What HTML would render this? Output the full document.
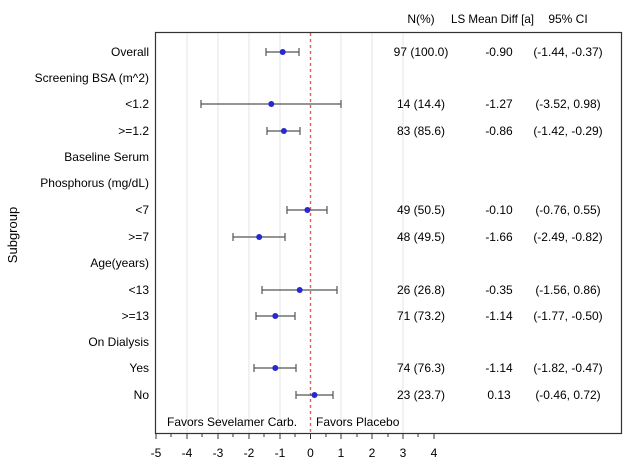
<!DOCTYPE html>
<html><head><meta charset="utf-8"><style>body{margin:0;background:#fff}</style></head><body>
<svg width="626" height="470" xmlns="http://www.w3.org/2000/svg" font-family="Liberation Sans, sans-serif" font-size="12" fill="#000">
<rect width="626" height="470" fill="#fff"/>
<g stroke="#e6e6e6" stroke-width="1">
<line x1="187" y1="33" x2="187" y2="433"/><line x1="218" y1="33" x2="218" y2="433"/><line x1="249" y1="33" x2="249" y2="433"/><line x1="280" y1="33" x2="280" y2="433"/><line x1="341" y1="33" x2="341" y2="433"/><line x1="372" y1="33" x2="372" y2="433"/><line x1="403" y1="33" x2="403" y2="433"/>
</g>
<line x1="310.5" y1="33" x2="310.5" y2="433" stroke="#e06060" stroke-width="1.4" stroke-dasharray="3,3"/>
<rect x="155.5" y="32.5" width="466" height="401" fill="none" stroke="#333" stroke-width="1.2"/>
<g stroke="#333">
<line x1="156" y1="434" x2="156" y2="439"/><line x1="187" y1="434" x2="187" y2="439"/><line x1="218" y1="434" x2="218" y2="439"/><line x1="249" y1="434" x2="249" y2="439"/><line x1="280" y1="434" x2="280" y2="439"/><line x1="310.5" y1="434" x2="310.5" y2="439"/><line x1="341" y1="434" x2="341" y2="439"/><line x1="372" y1="434" x2="372" y2="439"/><line x1="403" y1="434" x2="403" y2="439"/><line x1="434" y1="434" x2="434" y2="439"/>
<line x1="171" y1="434" x2="171" y2="437"/><line x1="202" y1="434" x2="202" y2="437"/><line x1="233" y1="434" x2="233" y2="437"/><line x1="264" y1="434" x2="264" y2="437"/><line x1="295" y1="434" x2="295" y2="437"/><line x1="326" y1="434" x2="326" y2="437"/><line x1="357" y1="434" x2="357" y2="437"/><line x1="388" y1="434" x2="388" y2="437"/><line x1="418" y1="434" x2="418" y2="437"/>
</g>
<g text-anchor="middle">
<text x="156" y="457">-5</text><text x="187" y="457">-4</text><text x="218" y="457">-3</text><text x="249" y="457">-2</text><text x="280" y="457">-1</text><text x="310.5" y="457">0</text><text x="341" y="457">1</text><text x="372" y="457">2</text><text x="403" y="457">3</text><text x="434" y="457">4</text>
<text x="421" y="23">N(%)</text><text x="568" y="23">95% CI</text>
</g>
<text x="451" y="23" textLength="83" lengthAdjust="spacingAndGlyphs">LS Mean Diff [a]</text>
<text x="17" y="235" text-anchor="middle" font-size="13" transform="rotate(-90 17 235)">Subgroup</text>
<g text-anchor="end">
<text x="149" y="56">Overall</text><text x="149" y="82">Screening BSA (m^2)</text><text x="149" y="108">&lt;1.2</text><text x="149" y="135">&gt;=1.2</text><text x="149" y="161">Baseline Serum</text><text x="149" y="187">Phosphorus (mg/dL)</text><text x="149" y="214">&lt;7</text><text x="149" y="241">&gt;=7</text><text x="149" y="267">Age(years)</text><text x="149" y="294">&lt;13</text><text x="149" y="320">&gt;=13</text><text x="149" y="346">On Dialysis</text><text x="149" y="372">Yes</text><text x="149" y="399">No</text>
</g>
<text x="167" y="426">Favors Sevelamer Carb.</text><text x="316" y="426">Favors Placebo</text>
<g stroke="#555" stroke-width="1.2">
<path d="M266 52H299M266 48v8M299 48v8"/>
<path d="M201 104H341M201 100v8M341 100v8"/>
<path d="M267 131H300M267 127v8M300 127v8"/>
<path d="M287 210H327M287 206v8M327 206v8"/>
<path d="M233 237H285M233 233v8M285 233v8"/>
<path d="M262 290H337M262 286v8M337 286v8"/>
<path d="M256 316H295M256 312v8M295 312v8"/>
<path d="M254 368H296M254 364v8M296 364v8"/>
<path d="M296 395H333M296 391v8M333 391v8"/>
</g>
<g fill="#2828d0">
<circle cx="282.7" cy="52" r="3"/><circle cx="271.3" cy="104" r="3"/><circle cx="283.9" cy="131" r="3"/><circle cx="307.4" cy="210" r="3"/><circle cx="259.2" cy="237" r="3"/><circle cx="299.7" cy="290" r="3"/><circle cx="275.3" cy="316" r="3"/><circle cx="275.3" cy="368" r="3"/><circle cx="314.5" cy="395" r="3"/>
</g>
<g text-anchor="middle">
<text x="421" y="56">97 (100.0)</text><text x="499" y="56">-0.90</text><text x="568" y="56">(-1.44, -0.37)</text>
<text x="421" y="108">14 (14.4)</text><text x="499" y="108">-1.27</text><text x="568" y="108">(-3.52, 0.98)</text>
<text x="421" y="135">83 (85.6)</text><text x="499" y="135">-0.86</text><text x="568" y="135">(-1.42, -0.29)</text>
<text x="421" y="214">49 (50.5)</text><text x="499" y="214">-0.10</text><text x="568" y="214">(-0.76, 0.55)</text>
<text x="421" y="241">48 (49.5)</text><text x="499" y="241">-1.66</text><text x="568" y="241">(-2.49, -0.82)</text>
<text x="421" y="294">26 (26.8)</text><text x="499" y="294">-0.35</text><text x="568" y="294">(-1.56, 0.86)</text>
<text x="421" y="320">71 (73.2)</text><text x="499" y="320">-1.14</text><text x="568" y="320">(-1.77, -0.50)</text>
<text x="421" y="372">74 (76.3)</text><text x="499" y="372">-1.14</text><text x="568" y="372">(-1.82, -0.47)</text>
<text x="421" y="399">23 (23.7)</text><text x="499" y="399">0.13</text><text x="568" y="399">(-0.46, 0.72)</text>
</g>
</svg>
</body></html>
